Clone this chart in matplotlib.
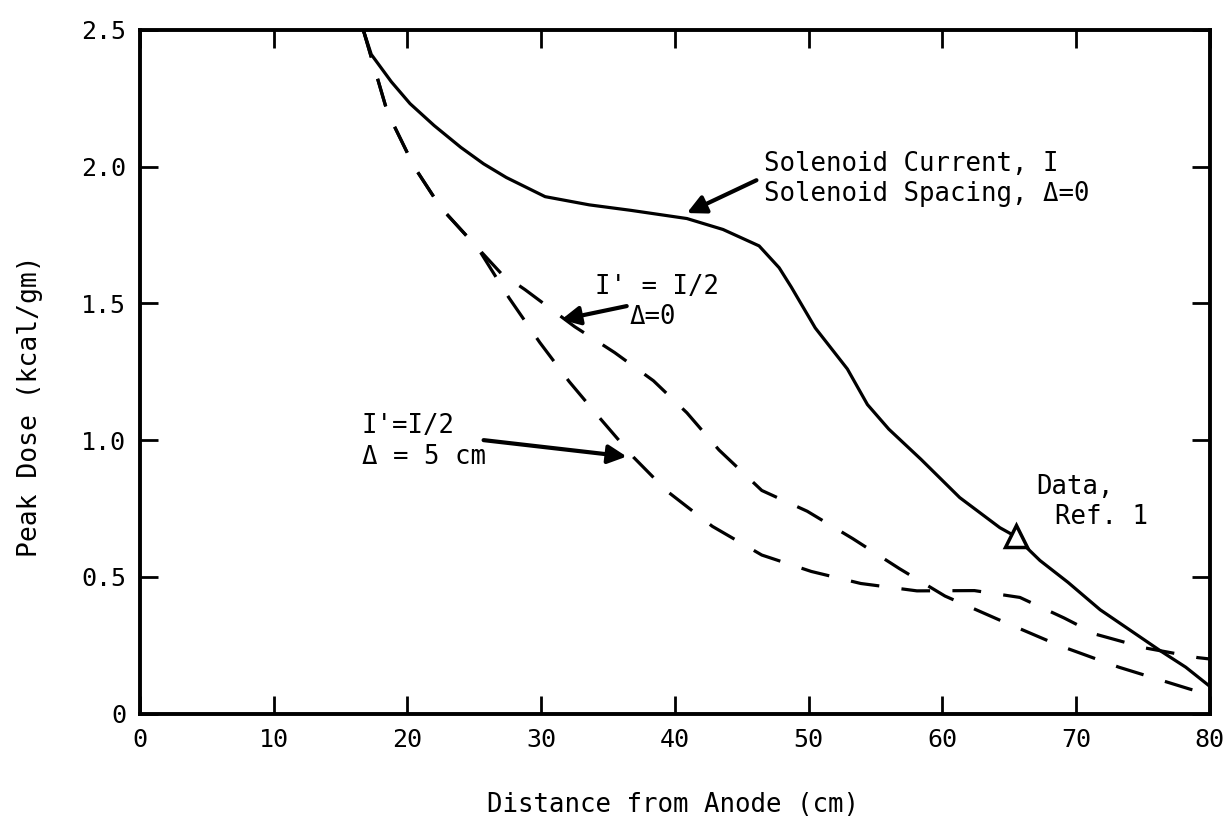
import matplotlib
matplotlib.use("Agg")
import matplotlib.pyplot as plt

# Solenoid current I, spacing 0 (solid line)
solid_x = [16.7, 17.3, 18.8, 20.2, 22.0, 24.0, 25.7, 27.4, 30.3, 33.6, 36.7, 40.9,
           43.6, 46.3, 47.8, 48.7, 50.5, 52.9, 54.4, 56.0, 58.4, 61.3, 64.3, 65.4,
           67.3, 69.4, 71.8, 74.2, 76.3, 78.2, 80.0]
solid_y = [2.50, 2.41, 2.31, 2.23, 2.15, 2.07, 2.01, 1.96, 1.89, 1.86, 1.84, 1.81,
           1.77, 1.71, 1.63, 1.56, 1.41, 1.26, 1.13, 1.04, 0.93, 0.79, 0.68, 0.65,
           0.56, 0.48, 0.38, 0.30, 0.23, 0.17, 0.10]

# I' = I/2, spacing 0 (dashed)
half_x = [16.7, 18.5, 20.5, 22.5, 25.3, 27.0, 28.8, 32.5, 35.5, 38.4, 40.9, 43.3,
          46.5, 49.9, 53.3, 56.8, 60.2, 64.2, 68.7, 73.2, 78.5, 80.0]
half_y = [2.50, 2.20, 2.00, 1.85, 1.70, 1.61, 1.55, 1.415, 1.32, 1.217, 1.10, 0.964,
          0.816, 0.74, 0.64, 0.53, 0.43, 0.344, 0.25, 0.17, 0.09, 0.07]

# I' = I/2, spacing 5 cm (dashed)
gap_x = [16.7, 18.5, 20.5, 22.5, 25.3, 27.6, 29.9, 32.1, 34.4, 36.9, 39.4, 42.8,
         46.5, 50.2, 53.9, 58.1, 62.4, 65.8, 69.1, 71.5, 75.2, 79.1, 80.0]
gap_y = [2.50, 2.20, 2.00, 1.85, 1.70, 1.52, 1.357, 1.214, 1.08, 0.938, 0.814, 0.685,
         0.58, 0.52, 0.476, 0.449, 0.45, 0.425, 0.35, 0.29, 0.24, 0.205, 0.20]

# measured point
data_x = [65.5]
data_y = [0.65]

x_ticks = [0, 10, 20, 30, 40, 50, 60, 70, 80]
y_ticks = [0, 0.5, 1.0, 1.5, 2.0, 2.5]
y_tick_labels = ["0", "0.5", "1.0", "1.5", "2.0", "2.5"]

plt.rcParams["font.family"] = ["DejaVu Sans Mono", "DejaVu Sans"]

fig = plt.figure(figsize=(12.27, 8.27), dpi=100)
ax = fig.add_axes([0.114, 0.137, 0.872, 0.827])

dash = (0, (9, 7))
ax.plot(solid_x, solid_y, color="black", lw=2.3, solid_capstyle="butt")
ax.plot(half_x, half_y, color="black", lw=2.3, linestyle=dash)
ax.plot(gap_x, gap_y, color="black", lw=2.3, linestyle=dash)
ax.plot(data_x, data_y, marker="^", markersize=16, markerfacecolor="white",
        markeredgecolor="black", markeredgewidth=2.5, linestyle="none")

ax.set_xlim(0, 80)
ax.set_ylim(0, 2.5)
ax.set_xticks(x_ticks)
ax.set_yticks(y_ticks)
ax.set_yticklabels(y_tick_labels)
ax.tick_params(direction="in", length=13, width=2, labelsize=18,
               top=True, right=True, pad=10)

for side in ax.spines.values():
    side.set_linewidth(2.8)

ax.set_xlabel("Distance from Anode (cm)", fontsize=18.5)
ax.set_ylabel("Peak Dose (kcal/gm)", fontsize=19)
ax.xaxis.set_label_coords(0.498, -0.115)
ax.yaxis.set_label_coords(-0.091, 0.449)

fs = 18.5
arrow = dict(arrowstyle="-|>", color="black", lw=3, mutation_scale=28,
             shrinkA=0, shrinkB=0)

ax.annotate("", xy=(40.9, 1.83), xytext=(46.1, 1.95), arrowprops=arrow)
ax.text(46.7, 2.01, "Solenoid Current, I", fontsize=fs, va="center")
ax.text(46.7, 1.90, "Solenoid Spacing, \u0394=0", fontsize=fs, va="center")

ax.annotate("", xy=(31.5, 1.44), xytext=(36.4, 1.49), arrowprops=arrow)
ax.text(34.0, 1.56, "I' = I/2", fontsize=fs, va="center")
ax.text(36.6, 1.45, "\u0394=0", fontsize=fs, va="center")

ax.annotate("", xy=(36.4, 0.94), xytext=(25.7, 1.0), arrowprops=arrow)
ax.text(16.6, 1.05, "I'=I/2", fontsize=fs, va="center")
ax.text(16.6, 0.94, "\u0394 = 5 cm", fontsize=fs, va="center")

ax.text(67.0, 0.83, "Data,", fontsize=fs, va="center")
ax.text(68.4, 0.72, "Ref. 1", fontsize=fs, va="center")

fig.savefig("out.png", dpi=100)
